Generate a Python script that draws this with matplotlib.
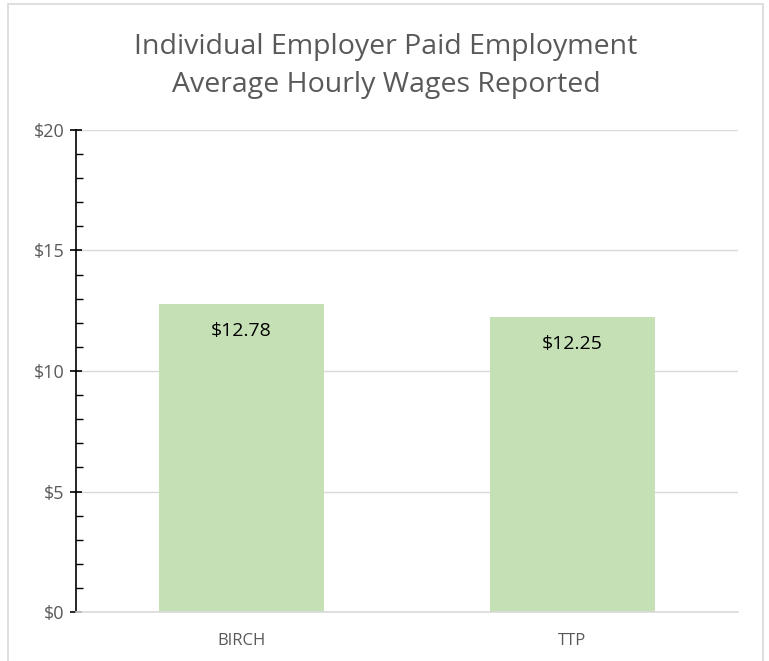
import matplotlib.pyplot as plt
from matplotlib.patches import Rectangle
from matplotlib.ticker import MultipleLocator, FuncFormatter

categories = ["BIRCH", "TTP"]
wages = [12.78, 12.25]
labels = ["$12.78", "$12.25"]

plt.rcParams['font.family'] = ['Open Sans', 'DejaVu Sans']

W, H = 769, 661
fig = plt.figure(figsize=(W/100, H/100), dpi=100)
ax = fig.add_axes([76/W, 1-612/H, (738-76)/W, (612-130)/H])

x = range(len(categories))
ax.bar(x, wages, width=0.5, color='#C5E0B4', zorder=2)
for xi, v, lab in zip(x, wages, labels):
    ax.annotate(lab, (xi, v), xytext=(0, -13), textcoords='offset points',
                ha='center', va='top', fontsize=14, color='black')

ax.set_xlim(-0.5, 1.5)
ax.set_ylim(0, 20)
ax.yaxis.set_major_locator(MultipleLocator(5))
ax.yaxis.set_minor_locator(MultipleLocator(1))
ax.yaxis.set_major_formatter(FuncFormatter(lambda v, p: f"${v:.0f}"))
ax.set_xticks(list(x))
ax.set_xticklabels(categories)
ax.grid(axis='y', color='#D9D9D9', linewidth=1, zorder=0)
for s in ['top', 'right']:
    ax.spines[s].set_visible(False)
ax.spines['left'].set_color('black')
ax.spines['left'].set_linewidth(1.2)
ax.spines['bottom'].set_color('#D9D9D9')
ax.spines['bottom'].set_linewidth(1.2)
ax.tick_params(axis='y', which='major', direction='inout', length=9, width=1.2,
               color='black', labelsize=13, labelcolor='#595959', pad=4)
ax.tick_params(axis='y', which='minor', direction='in', length=5, width=1, color='black')
ax.tick_params(axis='x', length=0, labelsize=12, labelcolor='#595959', pad=15)

fig.text(386/W, 1-66/H, "Individual Employer Paid Employment\nAverage Hourly Wages Reported",
         ha='center', va='center', fontsize=20.5, color='#595959', linespacing=1.43)

fig.patches.append(Rectangle((8/W, -0.05), (763-8)/W, 1.05-4/H, transform=fig.transFigure,
                             fill=False, edgecolor='#D9D9D9', linewidth=1.2))

fig.savefig('out.png', dpi=100)
